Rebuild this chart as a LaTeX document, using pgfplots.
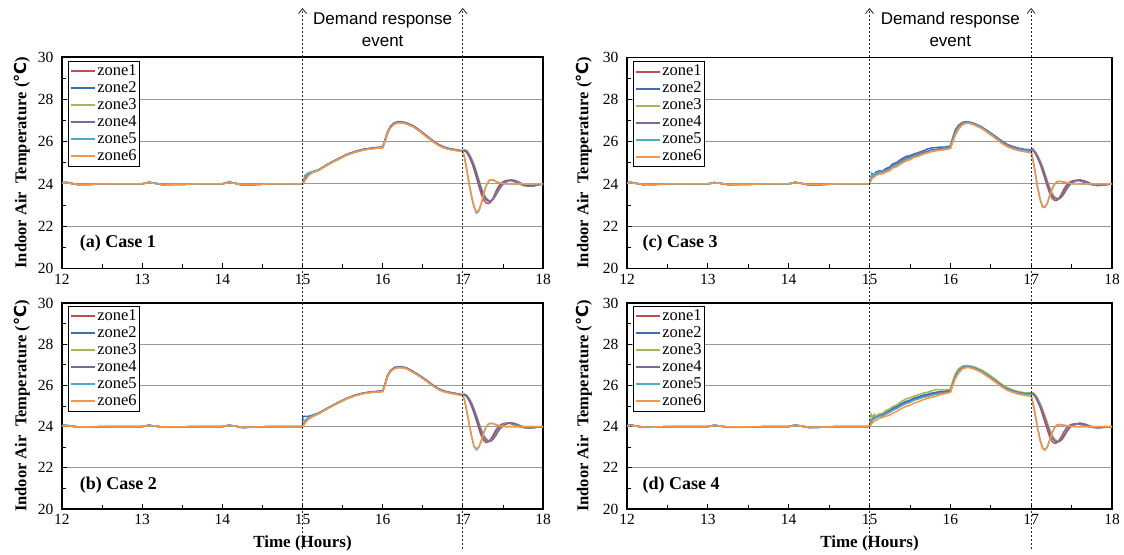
\documentclass[border=0pt]{standalone}
\usepackage{pgfplots}
\pgfplotsset{compat=1.18}
\usepackage{pgfplotstable}
\usepackage{fontspec}
\setmainfont{Liberation Serif}
\newfontfamily\arial{Liberation Sans}
\newfontfamily\djv{DejaVu Sans}
\usetikzlibrary{arrows.meta,calc}

\definecolor{zA}{HTML}{C0504D}
\definecolor{zB}{HTML}{3C6EB4}
\definecolor{zC}{HTML}{9BBB59}
\definecolor{zD}{HTML}{8064A2}
\definecolor{zE}{HTML}{4BACC6}
\definecolor{zF}{HTML}{F79646}

\pgfplotstableread{
x z1 z2 z3 z4 z5 z6
12.00 24.03 24.04 24.03 24.05 24.03 24.02
12.05 24.06 24.07 24.06 24.08 24.06 24.05
12.12 24.02 24.02 24.02 24.03 24.02 24.02
12.20 23.97 23.97 23.97 23.96 23.97 23.98
12.35 23.98 23.98 23.98 23.97 23.98 23.98
12.50 24.00 24.00 24.00 23.99 24.00 24.00
12.75 24.00 24.00 24.00 24.00 24.00 24.00
13.00 24.00 24.00 24.00 24.00 24.00 24.00
13.08 24.07 24.07 24.07 24.08 24.07 24.06
13.15 24.04 24.04 24.04 24.04 24.04 24.03
13.25 23.97 23.97 23.97 23.96 23.97 23.98
13.50 23.98 23.98 23.98 23.98 23.98 23.99
13.75 24.00 24.00 24.00 24.00 24.00 24.00
14.00 24.00 24.00 24.00 24.00 24.00 24.00
14.08 24.08 24.08 24.08 24.09 24.08 24.07
14.15 24.04 24.04 24.04 24.04 24.04 24.03
14.25 23.95 23.95 23.95 23.94 23.95 23.96
14.40 23.97 23.97 23.97 23.97 23.97 23.98
14.60 24.00 24.00 24.00 24.00 24.00 24.00
14.80 24.00 24.00 24.00 24.00 24.00 24.00
15.00 24.00 24.00 24.00 24.00 24.00 24.00
15.03 24.20 24.24 24.18 24.20 24.40 24.15
15.075 24.45 24.47 24.44 24.46 24.52 24.40
15.12 24.55 24.56 24.54 24.55 24.58 24.52
15.20 24.65 24.66 24.64 24.66 24.66 24.63
15.29 24.86 24.87 24.85 24.88 24.86 24.84
15.38 25.05 25.06 25.04 25.07 25.05 25.03
15.45 25.18 25.19 25.17 25.20 25.18 25.16
15.55 25.38 25.38 25.37 25.40 25.37 25.36
15.66 25.52 25.53 25.51 25.54 25.51 25.50
15.76 25.62 25.63 25.61 25.64 25.61 25.60
15.87 25.68 25.69 25.67 25.70 25.67 25.66
16.00 25.73 25.74 25.72 25.75 25.72 25.71
16.03 26.05 26.07 26.04 26.08 26.03 26.02
16.06 26.41 26.43 26.40 26.45 26.39 26.38
16.10 26.70 26.72 26.69 26.74 26.68 26.67
16.15 26.86 26.88 26.85 26.90 26.84 26.83
16.20 26.92 26.93 26.91 26.95 26.90 26.89
16.25 26.91 26.92 26.90 26.93 26.89 26.88
16.30 26.86 26.87 26.85 26.88 26.84 26.83
16.38 26.73 26.74 26.72 26.75 26.71 26.70
16.46 26.52 26.53 26.51 26.54 26.50 26.49
16.55 26.25 26.26 26.24 26.27 26.23 26.22
16.62 26.04 26.05 26.03 26.06 26.02 26.01
16.70 25.84 25.85 25.83 25.86 25.82 25.81
16.77 25.72 25.73 25.71 25.74 25.70 25.69
16.84 25.65 25.66 25.64 25.66 25.63 25.62
16.92 25.60 25.61 25.60 25.61 25.58 25.57
17.00 25.54 25.56 25.58 25.55 25.53 25.52
17.02 25.58 25.57 25.62 25.58 25.25 25.30
17.05 25.48 25.50 25.58 25.52 24.62 24.68
17.08 25.28 25.32 25.42 25.36 23.95 24.00
17.11 25.02 25.08 25.20 25.12 23.35 23.42
17.14 24.68 24.78 24.92 24.84 22.90 22.95
17.17 24.30 24.42 24.58 24.50 22.62 22.68
17.20 23.90 24.05 24.20 24.12 22.72 22.75
17.23 23.52 23.70 23.85 23.75 23.05 23.08
17.26 23.25 23.42 23.55 23.48 23.50 23.52
17.29 23.10 23.25 23.33 23.30 23.90 23.92
17.32 23.07 23.18 23.22 23.20 24.12 24.13
17.35 23.15 23.20 23.20 23.18 24.20 24.20
17.38 23.35 23.32 23.30 23.28 24.18 24.18
17.41 23.62 23.52 23.48 23.46 24.12 24.12
17.44 23.85 23.74 23.68 23.65 24.07 24.07
17.47 24.00 23.92 23.86 23.84 24.04 24.04
17.50 24.10 24.04 24.00 23.98 24.02 24.02
17.55 24.17 24.14 24.12 24.12 24.00 24.00
17.60 24.16 24.18 24.18 24.18 24.00 24.00
17.65 24.10 24.14 24.15 24.16 24.00 24.00
17.70 24.00 24.05 24.06 24.08 24.00 24.00
17.76 23.92 23.95 23.96 23.96 24.00 24.00
17.82 23.89 23.90 23.90 23.90 24.00 24.00
17.88 23.91 23.91 23.91 23.91 24.00 24.00
17.94 23.96 23.96 23.96 23.96 24.00 24.00
18.00 24.00 24.00 24.00 24.00 24.00 24.00
}\tabA

\pgfplotstableread{
x z1 z2 z3 z4 z5 z6
12.00 24.04 24.05 24.04 24.05 24.04 24.03
12.05 24.05 24.06 24.05 24.06 24.05 24.04
12.12 24.02 24.02 24.02 24.03 24.02 24.02
12.20 23.98 23.98 23.98 23.97 23.98 23.98
12.35 23.98 23.98 23.98 23.98 23.98 23.99
12.50 24.00 24.00 24.00 23.99 24.00 24.00
12.75 24.00 24.00 24.00 24.00 24.00 24.00
13.00 24.00 24.00 24.00 24.00 24.00 24.00
13.08 24.06 24.06 24.06 24.07 24.06 24.05
13.15 24.03 24.03 24.03 24.03 24.03 24.03
13.25 23.98 23.98 23.98 23.97 23.98 23.98
13.50 23.99 23.99 23.99 23.98 23.99 23.99
13.75 24.00 24.00 24.00 24.00 24.00 24.00
14.00 24.00 24.00 24.00 24.00 24.00 24.00
14.08 24.06 24.06 24.06 24.07 24.06 24.05
14.15 24.03 24.03 24.03 24.03 24.03 24.03
14.25 23.96 23.96 23.96 23.95 23.96 23.97
14.40 23.98 23.98 23.98 23.97 23.98 23.98
14.60 24.00 24.00 24.00 24.00 24.00 24.00
14.80 24.00 24.00 24.00 24.00 24.00 24.00
15.00 24.00 24.00 24.00 24.00 24.00 24.00
15.005 24.03 24.50 24.03 24.03 24.04 24.02
15.03 24.22 24.50 24.20 24.22 24.30 24.18
15.075 24.40 24.50 24.38 24.40 24.44 24.36
15.12 24.50 24.55 24.48 24.50 24.52 24.47
15.20 24.64 24.66 24.63 24.64 24.65 24.62
15.29 24.84 24.85 24.83 24.85 24.84 24.82
15.38 25.03 25.04 25.02 25.04 25.03 25.01
15.45 25.17 25.18 25.16 25.18 25.17 25.15
15.55 25.36 25.37 25.35 25.37 25.36 25.34
15.66 25.52 25.53 25.51 25.53 25.51 25.50
15.76 25.62 25.63 25.61 25.63 25.61 25.60
15.87 25.68 25.69 25.67 25.69 25.67 25.66
16.00 25.72 25.73 25.71 25.73 25.71 25.70
16.03 26.05 26.07 26.04 26.07 26.03 26.02
16.06 26.45 26.47 26.44 26.48 26.43 26.42
16.10 26.70 26.72 26.69 26.73 26.68 26.67
16.15 26.85 26.87 26.84 26.88 26.83 26.82
16.20 26.89 26.90 26.88 26.91 26.87 26.86
16.25 26.88 26.89 26.87 26.89 26.86 26.85
16.30 26.83 26.84 26.82 26.84 26.81 26.80
16.38 26.66 26.67 26.65 26.68 26.64 26.63
16.46 26.47 26.48 26.46 26.48 26.45 26.44
16.55 26.23 26.24 26.22 26.24 26.21 26.20
16.62 26.02 26.03 26.01 26.03 26.00 25.99
16.70 25.82 25.83 25.81 25.83 25.80 25.79
16.77 25.71 25.72 25.70 25.72 25.69 25.68
16.84 25.65 25.66 25.64 25.65 25.63 25.62
16.92 25.59 25.60 25.59 25.60 25.57 25.56
17.00 25.52 25.54 25.56 25.54 25.51 25.50
17.02 25.56 25.55 25.58 25.56 25.30 25.32
17.05 25.45 25.46 25.52 25.50 24.72 24.75
17.08 25.25 25.28 25.36 25.33 24.10 24.12
17.11 24.98 25.04 25.14 25.10 23.50 23.52
17.14 24.65 24.74 24.86 24.82 23.02 23.05
17.17 24.28 24.40 24.54 24.48 22.88 22.92
17.20 23.90 24.05 24.20 24.12 23.00 23.02
17.23 23.56 23.72 23.86 23.78 23.30 23.32
17.26 23.32 23.48 23.58 23.52 23.68 23.70
17.29 23.23 23.34 23.40 23.36 23.98 24.00
17.32 23.26 23.30 23.32 23.30 24.12 24.13
17.35 23.40 23.34 23.32 23.30 24.16 24.16
17.38 23.60 23.48 23.42 23.40 24.14 24.14
17.41 23.82 23.68 23.60 23.56 24.10 24.10
17.44 23.98 23.86 23.80 23.76 24.06 24.06
17.47 24.08 24.00 23.96 23.92 24.03 24.03
17.50 24.14 24.10 24.07 24.04 24.01 24.01
17.55 24.17 24.17 24.16 24.14 24.00 24.00
17.60 24.14 24.17 24.18 24.19 24.00 24.00
17.65 24.07 24.10 24.12 24.15 24.00 24.00
17.70 24.00 24.02 24.04 24.07 24.00 24.00
17.76 23.95 23.96 23.96 23.98 24.00 24.00
17.82 23.94 23.94 23.94 23.94 24.00 24.00
17.88 23.95 23.95 23.95 23.95 24.00 24.00
17.94 23.98 23.98 23.98 23.98 24.00 24.00
18.00 24.00 24.00 24.00 24.00 24.00 24.00
}\tabB

\pgfplotstableread{
x z1 z2 z3 z4 z5 z6
12.00 24.04 24.05 24.04 24.06 24.04 24.03
12.05 24.06 24.07 24.06 24.08 24.06 24.05
12.12 24.02 24.02 24.02 24.03 24.02 24.02
12.20 23.97 23.97 23.97 23.96 23.97 23.98
12.35 23.98 23.98 23.98 23.97 23.98 23.98
12.50 24.00 24.00 24.00 23.99 24.00 24.00
12.75 24.00 24.00 24.00 24.00 24.00 24.00
13.00 24.00 24.00 24.00 24.00 24.00 24.00
13.08 24.06 24.06 24.06 24.07 24.06 24.05
13.15 24.03 24.03 24.03 24.03 24.03 24.03
13.25 23.97 23.97 23.97 23.96 23.97 23.98
13.50 23.98 23.98 23.98 23.98 23.98 23.99
13.75 24.00 24.00 24.00 24.00 24.00 24.00
14.00 24.00 24.00 24.00 24.00 24.00 24.00
14.08 24.07 24.07 24.07 24.08 24.07 24.06
14.15 24.03 24.03 24.03 24.03 24.03 24.03
14.25 23.96 23.96 23.96 23.95 23.96 23.97
14.40 23.97 23.97 23.97 23.97 23.97 23.98
14.60 24.00 24.00 24.00 24.00 24.00 24.00
14.80 24.00 24.00 24.00 24.00 24.00 24.00
15.00 24.00 24.00 24.00 24.00 24.00 24.00
15.03 24.40 24.50 24.35 24.42 24.45 24.25
15.05 24.36 24.40 24.38 24.38 24.40 24.30
15.075 24.50 24.55 24.42 24.48 24.50 24.38
15.12 24.52 24.62 24.50 24.52 24.55 24.46
15.16 24.55 24.60 24.56 24.56 24.55 24.48
15.20 24.60 24.72 24.62 24.64 24.62 24.55
15.25 24.72 24.80 24.70 24.74 24.70 24.62
15.29 24.85 24.95 24.86 24.88 24.84 24.76
15.34 24.88 25.02 24.92 24.94 24.90 24.82
15.38 25.00 25.14 25.05 25.06 25.00 24.93
15.45 25.16 25.30 25.20 25.22 25.15 25.08
15.50 25.22 25.34 25.26 25.28 25.22 25.14
15.55 25.32 25.42 25.36 25.36 25.30 25.26
15.60 25.36 25.48 25.42 25.40 25.36 25.30
15.66 25.45 25.56 25.50 25.50 25.44 25.40
15.71 25.48 25.64 25.54 25.54 25.48 25.46
15.76 25.56 25.70 25.60 25.60 25.55 25.52
15.87 25.62 25.74 25.66 25.66 25.62 25.60
15.93 25.66 25.74 25.70 25.68 25.64 25.62
16.00 25.70 25.80 25.74 25.72 25.70 25.68
16.03 26.05 26.20 26.12 26.10 26.05 25.98
16.06 26.38 26.55 26.46 26.44 26.38 26.30
16.10 26.66 26.78 26.72 26.70 26.66 26.58
16.15 26.85 26.92 26.88 26.87 26.84 26.80
16.20 26.90 26.95 26.92 26.92 26.90 26.87
16.25 26.88 26.92 26.90 26.90 26.88 26.85
16.30 26.82 26.86 26.84 26.84 26.82 26.78
16.38 26.68 26.72 26.70 26.70 26.68 26.64
16.46 26.48 26.52 26.50 26.50 26.47 26.43
16.55 26.23 26.28 26.25 26.25 26.22 26.18
16.62 26.02 26.08 26.04 26.04 26.00 25.96
16.70 25.82 25.88 25.84 25.84 25.80 25.77
16.77 25.72 25.78 25.74 25.74 25.70 25.66
16.84 25.65 25.70 25.66 25.66 25.63 25.58
16.92 25.60 25.64 25.60 25.60 25.57 25.52
17.00 25.56 25.62 25.58 25.58 25.54 25.48
17.02 25.60 25.66 25.62 25.60 25.20 25.15
17.05 25.45 25.52 25.52 25.48 24.55 24.50
17.08 25.22 25.32 25.34 25.28 23.85 23.80
17.11 24.95 25.08 25.10 25.04 23.30 23.25
17.14 24.62 24.78 24.82 24.74 22.95 22.90
17.17 24.25 24.45 24.50 24.40 22.90 22.88
17.20 23.88 24.10 24.15 24.05 23.10 23.08
17.23 23.55 23.76 23.82 23.72 23.45 23.42
17.26 23.32 23.50 23.55 23.46 23.78 23.76
17.29 23.22 23.35 23.38 23.32 24.00 23.98
17.32 23.22 23.30 23.31 23.28 24.10 24.10
17.35 23.35 23.32 23.30 23.30 24.12 24.12
17.38 23.55 23.44 23.40 23.40 24.11 24.11
17.41 23.78 23.64 23.58 23.56 24.08 24.08
17.44 23.96 23.84 23.78 23.76 24.05 24.05
17.47 24.06 23.98 23.94 23.92 24.03 24.03
17.50 24.13 24.08 24.06 24.04 24.01 24.01
17.55 24.17 24.16 24.15 24.14 24.00 24.00
17.60 24.15 24.18 24.19 24.19 24.00 24.00
17.65 24.08 24.12 24.14 24.15 24.00 24.00
17.70 24.00 24.04 24.06 24.08 24.00 24.00
17.76 23.95 23.96 23.97 23.98 24.00 24.00
17.82 23.93 23.93 23.93 23.94 24.00 24.00
17.88 23.94 23.94 23.94 23.94 24.00 24.00
17.94 23.97 23.97 23.97 23.97 24.00 24.00
18.00 24.00 24.00 24.00 24.00 24.00 24.00
}\tabC

\pgfplotstableread{
x z1 z2 z3 z4 z5 z6
12.00 24.04 24.05 24.04 24.06 24.04 24.03
12.05 24.06 24.07 24.06 24.08 24.06 24.05
12.12 24.02 24.02 24.02 24.03 24.02 24.02
12.20 23.97 23.97 23.97 23.96 23.97 23.98
12.35 23.98 23.98 23.98 23.97 23.98 23.98
12.50 24.00 24.00 24.00 23.99 24.00 24.00
12.75 24.00 24.00 24.00 24.00 24.00 24.00
13.00 24.00 24.00 24.00 24.00 24.00 24.00
13.08 24.06 24.06 24.06 24.07 24.06 24.05
13.15 24.03 24.03 24.03 24.03 24.03 24.03
13.25 23.97 23.97 23.97 23.96 23.97 23.98
13.50 23.98 23.98 23.98 23.98 23.98 23.99
13.75 24.00 24.00 24.00 24.00 24.00 24.00
14.00 24.00 24.00 24.00 24.00 24.00 24.00
14.08 24.07 24.07 24.07 24.08 24.07 24.06
14.15 24.03 24.03 24.03 24.03 24.03 24.03
14.25 23.96 23.96 23.96 23.95 23.96 23.97
14.40 23.97 23.97 23.97 23.97 23.97 23.98
14.60 24.00 24.00 24.00 24.00 24.00 24.00
14.80 24.00 24.00 24.00 24.00 24.00 24.00
15.00 24.00 24.00 24.00 24.00 24.00 24.00
15.02 24.20 24.25 24.62 24.22 24.20 24.10
15.04 24.36 24.40 24.45 24.36 24.34 24.20
15.06 24.40 24.44 24.60 24.40 24.38 24.26
15.075 24.45 24.48 24.50 24.45 24.42 24.30
15.12 24.50 24.55 24.62 24.52 24.50 24.40
15.16 24.54 24.58 24.64 24.55 24.52 24.44
15.20 24.62 24.68 24.78 24.64 24.60 24.50
15.25 24.72 24.78 24.86 24.74 24.70 24.56
15.29 24.82 24.90 24.98 24.84 24.80 24.66
15.34 24.90 24.98 25.06 24.92 24.88 24.74
15.38 25.00 25.08 25.18 25.02 24.98 24.84
15.45 25.14 25.22 25.34 25.16 25.12 24.98
15.50 25.20 25.28 25.40 25.22 25.18 25.04
15.55 25.30 25.38 25.48 25.32 25.28 25.14
15.60 25.36 25.44 25.54 25.38 25.34 25.20
15.66 25.44 25.52 25.62 25.46 25.42 25.30
15.71 25.48 25.56 25.66 25.50 25.46 25.36
15.76 25.54 25.62 25.72 25.56 25.52 25.42
15.82 25.58 25.66 25.80 25.60 25.56 25.46
15.87 25.62 25.70 25.80 25.64 25.60 25.54
15.93 25.64 25.72 25.78 25.66 25.62 25.60
16.00 25.68 25.74 25.82 25.70 25.68 25.66
16.03 26.05 26.10 26.20 26.08 26.05 25.98
16.06 26.38 26.44 26.55 26.42 26.38 26.30
16.10 26.66 26.70 26.80 26.70 26.66 26.58
16.15 26.85 26.88 26.94 26.87 26.84 26.80
16.20 26.90 26.92 26.97 26.92 26.90 26.87
16.25 26.88 26.90 26.95 26.90 26.88 26.85
16.30 26.82 26.84 26.89 26.84 26.82 26.78
16.38 26.68 26.70 26.76 26.70 26.68 26.64
16.46 26.48 26.50 26.57 26.50 26.47 26.43
16.55 26.23 26.25 26.32 26.25 26.22 26.18
16.62 26.02 26.04 26.10 26.04 26.00 25.96
16.70 25.82 25.84 25.90 25.84 25.80 25.77
16.77 25.72 25.74 25.78 25.74 25.70 25.66
16.84 25.65 25.66 25.70 25.66 25.63 25.58
16.92 25.60 25.60 25.64 25.60 25.57 25.52
17.00 25.58 25.60 25.64 25.60 25.55 25.46
17.02 25.60 25.62 25.66 25.60 25.20 25.15
17.05 25.45 25.50 25.56 25.48 24.60 24.55
17.08 25.22 25.30 25.38 25.28 23.95 23.90
17.11 24.95 25.06 25.14 25.04 23.38 23.32
17.14 24.60 24.76 24.86 24.74 22.98 22.94
17.17 24.22 24.42 24.54 24.40 22.87 22.86
17.20 23.84 24.06 24.20 24.05 23.02 23.00
17.23 23.50 23.72 23.86 23.72 23.36 23.34
17.26 23.27 23.46 23.58 23.46 23.72 23.70
17.29 23.19 23.32 23.40 23.32 23.96 23.95
17.32 23.22 23.27 23.30 23.28 24.08 24.08
17.35 23.36 23.28 23.28 23.28 24.10 24.10
17.38 23.56 23.40 23.36 23.38 24.08 24.08
17.41 23.78 23.60 23.54 23.56 24.06 24.06
17.44 23.95 23.80 23.74 23.76 24.04 24.04
17.47 24.05 23.95 23.90 23.92 24.02 24.02
17.50 24.11 24.05 24.02 24.03 24.01 24.01
17.55 24.14 24.13 24.12 24.12 24.00 24.00
17.60 24.12 24.16 24.16 24.16 24.00 24.00
17.65 24.06 24.12 24.13 24.14 24.00 24.00
17.70 24.00 24.04 24.05 24.07 24.00 24.00
17.76 23.96 23.97 23.97 23.98 24.00 24.00
17.82 23.95 23.95 23.95 23.95 24.00 24.00
17.88 23.96 23.96 23.96 23.96 24.00 24.00
17.94 23.98 23.98 23.98 23.98 24.00 24.00
18.00 24.00 24.00 24.00 24.00 24.00 24.00
}\tabD

\pgfplotsset{
  panel/.style={
    scale only axis,
    xmin=12, xmax=18, ymin=20, ymax=30,
    xtick={12,13,...,18}, ytick={20,22,...,30},
    minor xtick={12.5,13.5,...,17.5}, minor ytick={21,23,...,29},
    tick align=inside, xtick pos=bottom, ytick pos=left,
    major tick length=5pt, minor tick length=4pt,
    every tick/.style={black, line width=0.8pt},
    axis line style={black, line width=1.3pt},
    ymajorgrids, grid style={gray!80, line width=1.1pt},
    /pgf/number format/assume math mode=true,
    ticklabel style={font=\fontsize{15.5}{15.5}\selectfont},
    yticklabel style={xshift=-5pt},
    xticklabel style={yshift=-2pt},
    ylabel={Indoor Air\ \ Temperature ({\djv ℃})},
    ylabel style={font=\bfseries\fontsize{16.5}{16.5}\selectfont, anchor=center},
    legend style={anchor=north west, draw=black, line width=0.6pt,
      font=\fontsize{16.5}{16.5}\selectfont, inner sep=1.5pt, row sep=0pt,
      nodes={inner sep=1.5pt, text height=11pt, text depth=3pt}, legend cell align=left},
    legend image code/.code={\draw[##1, line width=2pt] (3pt,0pt) -- (27pt,0pt);},
    every axis plot/.append style={line width=1.5pt},
  },
}

\begin{document}
\begin{tikzpicture}
\useasboundingbox (0,0) rectangle (1124pt,554pt);

% (a)
\begin{axis}[panel, at={(62pt,285.5pt)}, anchor=south west, width=481pt, height=211.5pt,
  ylabel style={at={(axis description cs:-0.0832,0.5)}},
  legend style={at={(rel axis cs:0.0125,0.981)}}]
  \addplot[zA] table[x=x,y=z1] {\tabA}; \addlegendentry{zone1}
  \addplot[zB] table[x=x,y=z2] {\tabA}; \addlegendentry{zone2}
  \addplot[zC] table[x=x,y=z3] {\tabA}; \addlegendentry{zone3}
  \addplot[zD] table[x=x,y=z4] {\tabA}; \addlegendentry{zone4}
  \addplot[zE] table[x=x,y=z5] {\tabA}; \addlegendentry{zone5}
  \addplot[zF] table[x=x,y=z6] {\tabA}; \addlegendentry{zone6}
  \node[anchor=west, font=\bfseries\fontsize{18}{18}\selectfont] at (rel axis cs:0.03,0.12) {(a) Case 1};
  \coordinate (A15) at (axis cs:15,30);
  \coordinate (A17) at (axis cs:17,30);
\end{axis}

% (b)
\begin{axis}[panel, at={(62pt,45pt)}, anchor=south west, width=481pt, height=206pt,
  ylabel style={at={(axis description cs:-0.0832,0.5)}},
  xlabel={Time (Hours)},
  xlabel style={font=\bfseries\fontsize{17}{17}\selectfont, at={(axis description cs:0.5,0)}, anchor=center, yshift=-34pt},
  legend style={at={(rel axis cs:0.0125,0.985)}}]
  \addplot[zA] table[x=x,y=z1] {\tabB}; \addlegendentry{zone1}
  \addplot[zB] table[x=x,y=z2] {\tabB}; \addlegendentry{zone2}
  \addplot[zC] table[x=x,y=z3] {\tabB}; \addlegendentry{zone3}
  \addplot[zD] table[x=x,y=z4] {\tabB}; \addlegendentry{zone4}
  \addplot[zE] table[x=x,y=z5] {\tabB}; \addlegendentry{zone5}
  \addplot[zF] table[x=x,y=z6] {\tabB}; \addlegendentry{zone6}
  \node[anchor=west, font=\bfseries\fontsize{18}{18}\selectfont] at (rel axis cs:0.03,0.117) {(b) Case 2};
\end{axis}

% (c)
\begin{axis}[panel, at={(627pt,285.7pt)}, anchor=south west, width=485pt, height=211pt,
  ylabel style={at={(axis description cs:-0.0887,0.5)}},
  legend style={at={(rel axis cs:0.0124,0.981)}}]
  \addplot[zA] table[x=x,y=z1] {\tabC}; \addlegendentry{zone1}
  \addplot[zB] table[x=x,y=z2] {\tabC}; \addlegendentry{zone2}
  \addplot[zC] table[x=x,y=z3] {\tabC}; \addlegendentry{zone3}
  \addplot[zD] table[x=x,y=z4] {\tabC}; \addlegendentry{zone4}
  \addplot[zE] table[x=x,y=z5] {\tabC}; \addlegendentry{zone5}
  \addplot[zF] table[x=x,y=z6] {\tabC}; \addlegendentry{zone6}
  \node[anchor=west, font=\bfseries\fontsize{18}{18}\selectfont] at (rel axis cs:0.025,0.12) {(c) Case 3};
  \coordinate (C15) at (axis cs:15,30);
  \coordinate (C17) at (axis cs:17,30);
\end{axis}

% (d)
\begin{axis}[panel, at={(627pt,45pt)}, anchor=south west, width=485pt, height=206pt,
  ylabel style={at={(axis description cs:-0.0887,0.5)}},
  xlabel={Time (Hours)},
  xlabel style={font=\bfseries\fontsize{17}{17}\selectfont, at={(axis description cs:0.5,0)}, anchor=center, yshift=-34pt},
  legend style={at={(rel axis cs:0.0124,0.985)}}]
  \addplot[zA] table[x=x,y=z1] {\tabD}; \addlegendentry{zone1}
  \addplot[zB] table[x=x,y=z2] {\tabD}; \addlegendentry{zone2}
  \addplot[zC] table[x=x,y=z3] {\tabD}; \addlegendentry{zone3}
  \addplot[zD] table[x=x,y=z4] {\tabD}; \addlegendentry{zone4}
  \addplot[zE] table[x=x,y=z5] {\tabD}; \addlegendentry{zone5}
  \addplot[zF] table[x=x,y=z6] {\tabD}; \addlegendentry{zone6}
  \node[anchor=west, font=\bfseries\fontsize{18}{18}\selectfont] at (rel axis cs:0.025,0.117) {(d) Case 4};
\end{axis}

% demand response markers
\coordinate (bot) at (0,5pt);
\coordinate (top) at (0,546pt);
\coordinate (ann) at (0,525pt);
\foreach \p in {A15,A17,C15,C17}{
  \draw[black!85, line width=0.8pt, dash pattern=on 2pt off 2pt,
        -{Straight Barb[length=5pt,width=8pt,line width=0.8pt]}] (\p |- bot) -- (\p |- top);
}
\node[font=\arial\fontsize{17}{22}\selectfont, align=center] at ($(A15 |- ann)!0.5!(A17 |- ann)$) {Demand response\\event};
\node[font=\arial\fontsize{17}{22}\selectfont, align=center] at ($(C15 |- ann)!0.5!(C17 |- ann)$) {Demand response\\event};
\end{tikzpicture}
\end{document}
